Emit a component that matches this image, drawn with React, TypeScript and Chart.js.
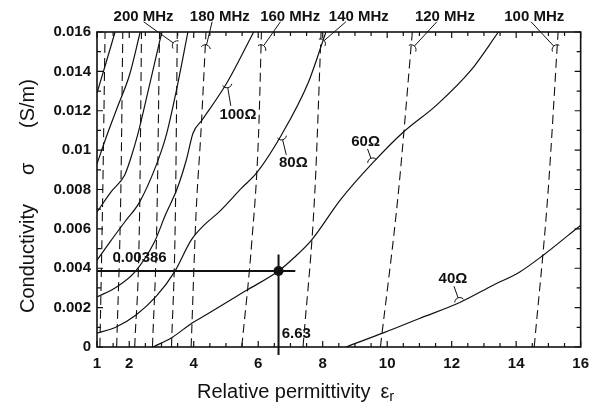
import React, { useEffect, useRef } from 'react';
import { Chart, registerables } from 'chart.js';

Chart.register(...registerables);

// ---------- axes ----------
const X_MIN = 1;
const X_MAX = 16;
const Y_MIN = 0;
const Y_MAX = 0.016;
const xTickValues = [1, 2, 4, 6, 8, 10, 12, 14, 16];
const yTickValues = [0, 0.002, 0.004, 0.006, 0.008, 0.01, 0.012, 0.014, 0.016];
const yTickLabels = ['0', '0.002', '0.004', '0.006', '0.008', '0.01', '0.012', '0.014', '0.016'];
const xMinorStep = 0.5;
const yMinorStep = 0.001;

// ---------- constant-impedance curves [eps_r, sigma] ----------
const impA: [number, number][] = [[1.0, 0.0129], [1.28, 0.01444], [1.56, 0.016]];
const impB: [number, number][] = [[1.0, 0.0093], [1.31, 0.01077], [1.65, 0.01225], [2.01, 0.01383], [2.34, 0.016]];
const impC: [number, number][] = [[1.0, 0.00686], [1.43, 0.00787], [1.86, 0.00874], [2.05, 0.0096], [2.26, 0.01077], [2.63, 0.01332], [3.01, 0.016]];
const impD: [number, number][] = [[1.0, 0.00441], [1.4, 0.00533], [1.86, 0.00635], [2.32, 0.00736], [2.84, 0.00925], [3.15, 0.01077], [3.46, 0.01301], [3.82, 0.016]];
const imp100: [number, number][] = [[1.0, 0.00254], [1.61, 0.00305], [2.17, 0.0038], [2.78, 0.00533], [3.12, 0.0067], [3.49, 0.00806], [3.77, 0.0095], [3.98, 0.01087], [4.26, 0.01153], [5.03, 0.01342], [5.86, 0.016]];
const imp80: [number, number][] = [[1.0, 0.0007], [1.58, 0.001], [2.2, 0.00161], [2.84, 0.00258], [3.4, 0.0038], [3.92, 0.00543], [4.32, 0.00619], [4.78, 0.00685], [5.49, 0.00808], [5.95, 0.00884], [6.72, 0.01077], [7.55, 0.01342], [8.1, 0.016]];
const imp60: [number, number][] = [[2.74, 0], [3.34, 0.0005], [3.95, 0.00122], [4.4, 0.00165], [5.64, 0.00288], [6.63, 0.00386], [7.1, 0.00452], [7.64, 0.0054], [8.56, 0.0075], [9.55, 0.00935], [10.47, 0.01087], [11.54, 0.0123], [12.62, 0.0141], [13.45, 0.016]];
const imp40: [number, number][] = [[8.72, 0], [9.92, 0.00074], [11.0, 0.00145], [12.25, 0.00226], [13.3, 0.00315], [14.1, 0.0038], [14.83, 0.00465], [16, 0.00619]];
const impedanceCurves = [impA, impB, impC, impD, imp100, imp80, imp60, imp40];

// ---------- constant-frequency curves (dashed) ----------
const freq1: [number, number][] = [[1.09, 0], [1.18, 0.008], [1.25, 0.016]];
const freq2: [number, number][] = [[1.61, 0], [1.74, 0.008], [1.8, 0.016]];
const freq3: [number, number][] = [[2.17, 0], [2.32, 0.0067], [2.38, 0.016]];
const freq4: [number, number][] = [[2.72, 0], [2.86, 0.0067], [2.94, 0.016]];
const freq200: [number, number][] = [[3.31, 0], [3.43, 0.0067], [3.49, 0.016]];
const freq180: [number, number][] = [[3.92, 0], [4.07, 0.0067], [4.23, 0.0111], [4.38, 0.016]];
const freq160: [number, number][] = [[5.49, 0], [5.8, 0.00533], [6.01, 0.01077], [6.1, 0.016]];
const freq140: [number, number][] = [[7.39, 0], [7.76, 0.008], [7.95, 0.016]];
const freq120: [number, number][] = [[9.79, 0], [10.35, 0.0079], [10.78, 0.016]];
const freq100: [number, number][] = [[14.56, 0], [14.99, 0.0079], [15.3, 0.016]];
const frequencyCurves = [freq1, freq2, freq3, freq4, freq200, freq180, freq160, freq140, freq120, freq100];

// ---------- operating point ----------
const opEps = 6.63;
const opSigma = 0.00386;
const opHLine: [number, number][] = [[1, opSigma], [7.15, opSigma]];
const opVLine: [number, number][] = [[opEps, 0.0047], [opEps, -0.0004]];
const opEpsLabel = '6.63';
const opSigmaLabel = '0.00386';

// ---------- labels ----------
const freqLabels = ['200 MHz', '180 MHz', '160 MHz', '140 MHz', '120 MHz', '100 MHz'];
const impLabels = ['100Ω', '80Ω', '60Ω', '40Ω'];

// label placement (data units): text centre, leader start, anchor on curve
const freqNotePlaces = [
  { at: [2.445, 0.01675], from: [2.445, 0.01652], to: [3.49, 0.0153] },
  { at: [4.81, 0.01675], from: [4.57, 0.01652], to: [4.36, 0.0151] },
  { at: [6.99, 0.01675], from: [6.69, 0.01652], to: [6.08, 0.0151] },
  { at: [9.12, 0.01675], from: [8.72, 0.01652], to: [7.93, 0.0154] },
  { at: [11.79, 0.01675], from: [11.54, 0.01652], to: [10.74, 0.0151] },
  { at: [14.56, 0.01675], from: [14.46, 0.01652], to: [15.27, 0.0151] },
];
const impNotePlaces = [
  { at: [5.37, 0.01179], from: [5.15, 0.01225], to: [5.03, 0.01342] },
  { at: [7.09, 0.00935], from: [6.87, 0.00976], to: [6.72, 0.01077] },
  { at: [9.33, 0.01042], from: [9.39, 0.01006], to: [9.55, 0.00935] },
  { at: [12.04, 0.00345], from: [12.07, 0.00309], to: [12.25, 0.00226] },
];
const opSigmaLabelAt = [2.32, 0.00454];
const opEpsLabelAt = [7.18, 0.00065];

const FONT = '"Liberation Sans", Arial, Helvetica, sans-serif';
const INK = '#111';

const toXY = (pts: [number, number][]) => pts.map(([x, y]) => ({ x, y }));

const overlayPlugin = {
  id: 'overlay',
  afterDatasetsDraw(chart: any) {
    const { ctx, chartArea: a, scales } = chart;
    const px = (v: number) => scales.x.getPixelForValue(v);
    const py = (v: number) => scales.y.getPixelForValue(v);
    ctx.save();
    ctx.strokeStyle = INK;
    ctx.fillStyle = INK;

    // frame
    ctx.lineWidth = 1.6;
    ctx.strokeRect(a.left, a.top, a.right - a.left, a.bottom - a.top);

    // inward ticks
    ctx.lineWidth = 1.2;
    ctx.beginPath();
    const nx = Math.round((X_MAX - X_MIN) / xMinorStep);
    for (let i = 0; i <= nx; i++) {
      const v = X_MIN + i * xMinorStep;
      const x = px(v);
      const len = xTickValues.some((t) => Math.abs(t - v) < 1e-9) ? 6 : 4;
      ctx.moveTo(x, a.bottom);
      ctx.lineTo(x, a.bottom - len);
      ctx.moveTo(x, a.top);
      ctx.lineTo(x, a.top + len);
    }
    const ny = Math.round((Y_MAX - Y_MIN) / yMinorStep);
    for (let i = 0; i <= ny; i++) {
      const v = Y_MIN + i * yMinorStep;
      const y = py(v);
      const len = i % 2 === 0 ? 6 : 4;
      ctx.moveTo(a.left, y);
      ctx.lineTo(a.left + len, y);
      ctx.moveTo(a.right, y);
      ctx.lineTo(a.right - len, y);
    }
    ctx.stroke();

    // operating point dot
    ctx.beginPath();
    ctx.arc(px(opEps), py(opSigma), 5, 0, Math.PI * 2);
    ctx.fill();

    // annotations
    const note = (text: string, p: any) => {
      const tx = px(p.at[0]);
      const ty = py(p.at[1]);
      const fx = px(p.from[0]);
      const fy = py(p.from[1]);
      const ax = px(p.to[0]);
      const ay = py(p.to[1]);
      const ang = Math.atan2(fy - ay, fx - ax);
      const r = 5;
      ctx.lineWidth = 1;
      ctx.beginPath();
      ctx.moveTo(fx, fy);
      ctx.lineTo(ax + r * Math.cos(ang), ay + r * Math.sin(ang));
      ctx.stroke();
      ctx.beginPath();
      ctx.arc(ax, ay, r, ang - 1.2, ang + 1.2);
      ctx.stroke();
      ctx.font = `bold 15px ${FONT}`;
      ctx.textAlign = 'center';
      ctx.textBaseline = 'middle';
      ctx.fillText(text, tx, ty);
    };
    freqLabels.forEach((t, i) => note(t, freqNotePlaces[i]));
    impLabels.forEach((t, i) => note(t, impNotePlaces[i]));

    ctx.font = `bold 15px ${FONT}`;
    ctx.textAlign = 'center';
    ctx.textBaseline = 'middle';
    ctx.fillText(opSigmaLabel, px(opSigmaLabelAt[0]), py(opSigmaLabelAt[1]));
    ctx.fillText(opEpsLabel, px(opEpsLabelAt[0]), py(opEpsLabelAt[1]));

    // axis titles
    ctx.font = `20px ${FONT}`;
    ctx.textAlign = 'left';
    ctx.textBaseline = 'alphabetic';
    const xt = 'Relative permittivity';
    const baseY = a.bottom + 51;
    const startX = a.left + 100;
    ctx.fillText(xt, startX, baseY);
    const w = ctx.measureText(xt).width;
    const ex = startX + w + 10;
    ctx.fillText('ε', ex, baseY);
    const ew = ctx.measureText('ε').width;
    ctx.font = `15px ${FONT}`;
    ctx.fillText('r', ex + ew, baseY + 3);

    ctx.save();
    ctx.translate(a.left - 63, 0);
    ctx.rotate(-Math.PI / 2);
    ctx.font = `20px ${FONT}`;
    ctx.textAlign = 'left';
    ctx.textBaseline = 'alphabetic';
    ctx.fillText('Conductivity', -(a.bottom - 34), 0);
    ctx.fillText('σ', -(a.bottom - 172), 0);
    ctx.fillText('(S/m)', -(a.bottom - 219), 0);
    ctx.restore();

    ctx.restore();
  },
};

export default function App() {
  const ref = useRef<HTMLCanvasElement | null>(null);
  useEffect(() => {
    if (!ref.current) return;
    const solid = impedanceCurves.map((c) => ({
      data: toXY(c),
      borderColor: INK,
      borderWidth: 1.2,
      pointRadius: 0,
      cubicInterpolationMode: 'monotone' as const,
    }));
    const dashed = frequencyCurves.map((c) => ({
      data: toXY(c),
      borderColor: INK,
      borderWidth: 1.1,
      borderDash: [9, 5],
      pointRadius: 0,
      cubicInterpolationMode: 'monotone' as const,
    }));
    const cross = [opHLine, opVLine].map((c) => ({
      data: toXY(c),
      borderColor: INK,
      borderWidth: 2,
      pointRadius: 0,
      tension: 0,
      clip: false as const,
    }));
    const chart = new Chart(ref.current, {
      type: 'line',
      data: { datasets: [...dashed, ...solid, ...cross] as any },
      options: {
        animation: false,
        responsive: false,
        devicePixelRatio: 1,
        layout: { padding: { left: 0, right: 12, top: 32, bottom: 0 } },
        plugins: { legend: { display: false }, tooltip: { enabled: false } },
        scales: {
          x: {
            type: 'linear',
            min: X_MIN,
            max: X_MAX,
            grid: { display: false, drawTicks: false },
            border: { display: false },
            ticks: {
              color: INK,
              font: { family: FONT, size: 15, weight: 'bold' },
              padding: 8,
              maxRotation: 0,
              autoSkip: false,
            },
            afterBuildTicks: (ax: any) => {
              ax.ticks = xTickValues.map((v) => ({ value: v }));
            },
            afterFit: (ax: any) => {
              ax.height = 57;
            },
          },
          y: {
            type: 'linear',
            min: Y_MIN,
            max: Y_MAX,
            grid: { display: false, drawTicks: false },
            border: { display: false },
            ticks: {
              color: INK,
              font: { family: FONT, size: 15, weight: 'bold' },
              padding: 6,
              autoSkip: false,
              callback: (v: any) => {
                const i = yTickValues.findIndex((t) => Math.abs(t - Number(v)) < 1e-9);
                return i >= 0 ? yTickLabels[i] : '';
              },
            },
            afterBuildTicks: (ax: any) => {
              ax.ticks = yTickValues.map((v) => ({ value: v }));
            },
            afterFit: (ax: any) => {
              ax.width = 97;
            },
          },
        },
      } as any,
      plugins: [overlayPlugin],
    });
    return () => chart.destroy();
  }, []);
  return (
    <div style={{ position: 'absolute', left: 0, top: 0, width: 597, height: 404, background: '#fff' }}>
      <canvas ref={ref} width={597} height={404} style={{ width: 597, height: 404, display: 'block' }} />
    </div>
  );
}
